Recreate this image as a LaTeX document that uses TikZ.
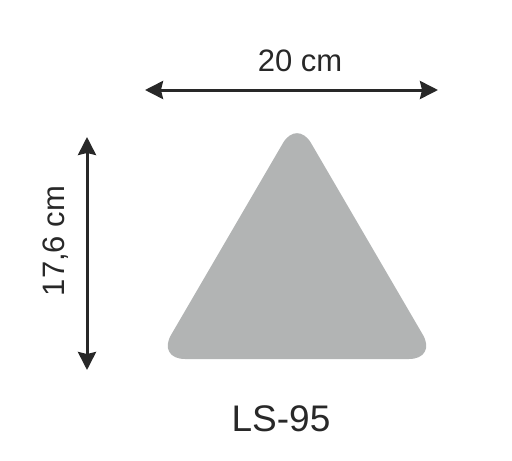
\documentclass[tikz,border=0pt]{standalone}
\usepackage{fontspec}
\setmainfont{Liberation Sans}
\usetikzlibrary{arrows.meta}

\definecolor{shapegray}{RGB}{178,180,180}
\definecolor{inkgray}{RGB}{40,40,40}

\tikzset{
  dimline/.style={draw=inkgray, line width=3pt,
    {Stealth[length=18pt,width=18pt,inset=2pt]}-{Stealth[length=18pt,width=18pt,inset=2pt]}},
  dimlabel/.style={text=inkgray, inner sep=0pt, font=\fontsize{31}{31}\selectfont},
  piece/.style={fill=shapegray, rounded corners=28pt}
}

\begin{document}
\begin{tikzpicture}[x=1pt,y=-1pt]
  \useasboundingbox (0,0) rectangle (512,461);

  % width
  \coordinate (wleft) at (145,90);
  \coordinate (wright) at (438,90);
  \draw[dimline] (wleft) -- (wright);
  \node[dimlabel] (width) at (300,61) {20 cm};

  % height
  \coordinate (htop) at (87,137);
  \coordinate (hbottom) at (87,370);
  \draw[dimline] (htop) -- (hbottom);
  \node[dimlabel, rotate=90] (height) at (56,241) {17,6 cm};

  % triangle
  \coordinate (apex) at (297,119);
  \coordinate (bleft) at (157,359);
  \coordinate (bright) at (437,359);
  \path[piece] (apex) -- (bright) -- (bleft) -- cycle;

  \node[dimlabel, font=\fontsize{37}{37}\selectfont] (name) at (281,419) {LS-95};
\end{tikzpicture}
\end{document}
